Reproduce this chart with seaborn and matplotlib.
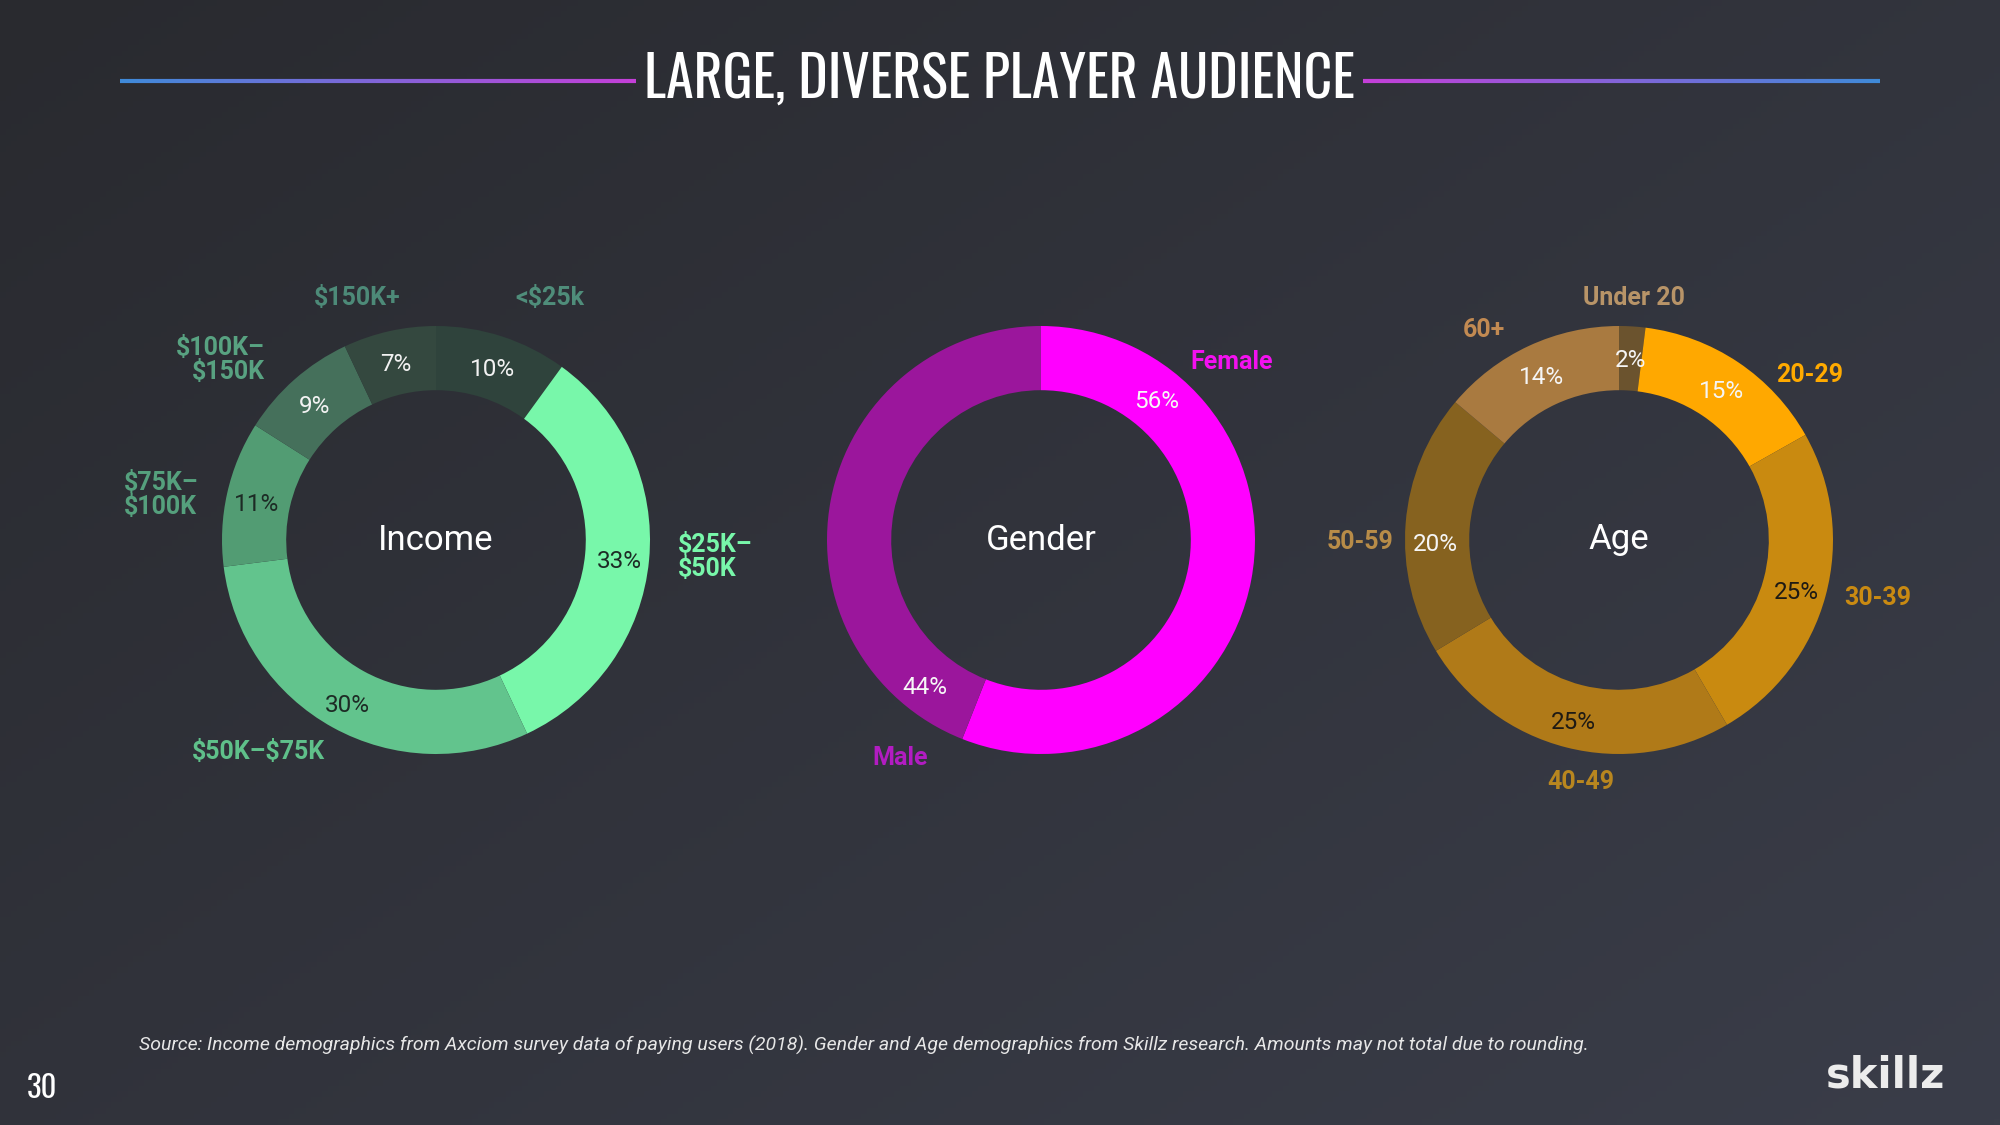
import numpy as np
import matplotlib
matplotlib.use("Agg")
import matplotlib.pyplot as plt
import seaborn as sns
from matplotlib.collections import LineCollection
from matplotlib import font_manager
from matplotlib.font_manager import FontProperties

# ---------------- data ----------------
income_labels = ["<$25k", "$25K–\n$50K", "$50K–$75K", "$75K–\n$100K", "$100K–\n$150K", "$150K+"]
income_values = [10, 33, 30, 11, 9, 7]

gender_labels = ["Female", "Male"]
gender_values = [56, 44]

age_labels = ["Under 20", "20-29", "30-39", "40-49", "50-59", "60+"]
age_values = [2, 15, 25, 25, 20, 14]

center_titles = ["Income", "Gender", "Age"]
title_text = "LARGE, DIVERSE PLAYER AUDIENCE"
source_text = ("Source: Income demographics from Axciom survey data of paying users (2018). "
               "Gender and Age demographics from Skillz research. Amounts may not total due to rounding.")
page_text = "30"
logo_text = "skillz"

# ---------------- styles ----------------
income_colors = sns.color_palette(["#2f433c", "#78f7aa", "#62c48d", "#529c73", "#45705b", "#34483f"])
income_label_colors = ["#4f8d7a", "#78f7aa", "#5fc08a", "#55a07d", "#58a281", "#4d8a78"]
income_pct_colors = ["#f2f2f2", "#1d2b25", "#1d2b25", "#1d2b25", "#f2f2f2", "#f2f2f2"]

gender_colors = sns.color_palette(["#ff00ff", "#9b169c"])
gender_label_colors = ["#f410f0", "#b21cc2"]
gender_pct_colors = ["#f7f7f7", "#f7f7f7"]

age_colors = sns.color_palette(["#6b532e", "#ffa800", "#c98a10", "#b07a18", "#86621f", "#a97a40"])
age_label_colors = ["#b89468", "#ffaa00", "#c98a12", "#b8861f", "#b88c48", "#c28a52"]
age_pct_colors = ["#f5f5f5", "#f5f5f5", "#1e1a14", "#1e1a14", "#f5f5f5", "#f5f5f5"]

# layout (outer label anchors in units of the outer radius)
income_label_layout = [((0.53, 1.13), "center"), ((1.13, -0.08), "left"), ((-0.83, -0.99), "center"),
                       ((-1.46, 0.21), "left"), ((-0.80, 0.84), "right"), ((-0.37, 1.13), "center")]
gender_label_layout = [((0.89, 0.83), "center"), ((-0.66, -1.02), "center")]
age_label_layout = [((0.07, 1.13), "center"), ((0.89, 0.77), "center"), ((1.21, -0.27), "center"),
                    ((-0.18, -1.13), "center"), ((-1.21, -0.01), "center"), ((-0.63, 0.98), "center")]
gender_pct_angles = [51, 231]   # standard-angle placement of the gender % labels
age_pct_angles = [86.4, 56.1, -15.1, -104.3, 180.0, 115.0]

W, H = 2000, 1125
R = 214
centers = [(436, 540), (1041, 540), (1619, 540)]

sns.set_theme(style="dark")
plt.rcParams["font.family"] = ["Roboto", "DejaVu Sans"]


def find_condensed(bold):
    best = None
    for f in font_manager.fontManager.ttflist:
        fn = f.fname.lower()
        cond = ("condensed" in fn or "narrow" in fn or "oswald" in fn
                or str(f.stretch) in ("condensed", "semi-condensed", "extra-condensed"))
        if not cond or f.style != "normal":
            continue
        w = f.weight if isinstance(f.weight, int) else (700 if "bold" in str(f.weight) else 400)
        score = abs(w - (700 if bold else 400))
        if "oswald" in fn:
            score -= 1000
        if best is None or score < best[0]:
            best = (score, f.fname)
    if best is None:
        return FontProperties(family="DejaVu Sans", weight="bold" if bold else "normal")
    return FontProperties(fname=best[1])


title_fp = find_condensed(True)
page_fp = find_condensed(False)

fig = plt.figure(figsize=(20, 11.25), dpi=100)
renderer = fig.canvas.get_renderer()


def fit_width(txt, target_px):
    bb = txt.get_window_extent(renderer=renderer)
    txt.set_fontsize(txt.get_fontsize() * target_px / bb.width)


def esc(s):
    return s.replace("$", r"\$")


# background
bg = fig.add_axes([0, 0, 1, 1])
bg.set_xlim(0, W)
bg.set_ylim(H, 0)
bg.axis("off")
yy, xx = np.mgrid[0:1:200j, 0:1:360j]
t = 0.55 * xx + 0.45 * yy
c0 = np.array([0x29, 0x2a, 0x2f]) / 255
c1 = np.array([0x3a, 0x3d, 0x49]) / 255
img = c0[None, None, :] * (1 - t[..., None]) + c1[None, None, :] * t[..., None]
bg.imshow(img, extent=[0, W, H, 0], aspect="auto", zorder=0)

# title + gradient rules
ttl = bg.text(999, 80, title_text, ha="center", va="center", color="white",
              fontproperties=title_fp, zorder=3)
ttl.set_fontsize(40)
fit_width(ttl, 711)


def grad_line(x0, x1, y, ca, cb):
    xs = np.linspace(x0, x1, 120)
    pts = np.array([xs, np.full_like(xs, y)]).T.reshape(-1, 1, 2)
    segs = np.concatenate([pts[:-1], pts[1:]], axis=1)
    ca = np.array(matplotlib.colors.to_rgb(ca))
    cb = np.array(matplotlib.colors.to_rgb(cb))
    f = np.linspace(0, 1, len(segs))[:, None]
    cols = ca * (1 - f) + cb * f
    lc = LineCollection(segs, colors=cols, linewidths=3.0, zorder=2)
    bg.add_collection(lc)


grad_line(120, 636, 81, "#3f8ad8", "#c43fd8")
grad_line(1363, 1880, 81, "#c43fd8", "#3f8ad8")

# footer
src = bg.text(139, 1045, source_text, ha="left", va="center", color="#e6e6e6", fontsize=13.2,
              fontstyle="italic", zorder=3)
fit_width(src, 1454)
pg = bg.text(42, 1089, page_text, ha="center", va="center", color="white",
             fontproperties=page_fp, zorder=3)
pg.set_fontsize(22)
bg.text(1886, 1075, logo_text, ha="center", va="center", color="#ececec", fontsize=30,
        fontweight="bold", family=["DejaVu Sans"], zorder=3)


def donut(center, values, colors, labels, label_colors, layout, pct_colors, title, pct_angles=None):
    cx, cy = center
    ax = fig.add_axes([(cx - 1.6 * R) / W, (H - cy - 1.6 * R) / H, 3.2 * R / W, 3.2 * R / H])
    ax.set_facecolor("none")
    wedges, _ = ax.pie(values, colors=colors, startangle=90, counterclock=False, radius=1.0,
                       wedgeprops=dict(width=0.30, edgecolor="none", linewidth=0))
    ax.set_xlim(-1.6, 1.6)
    ax.set_ylim(-1.6, 1.6)
    ax.set_aspect("equal")
    ax.axis("off")
    for i, (w, v) in enumerate(zip(wedges, values)):
        ang = (w.theta1 + w.theta2) / 2 if pct_angles is None else pct_angles[i]
        r = 0.86
        ax.text(r * np.cos(np.radians(ang)), r * np.sin(np.radians(ang)) - 0.02, f"{v}%",
                ha="center", va="center", fontsize=17.5, color=pct_colors[i])
    for lab, col, ((lx, ly), ha) in zip(labels, label_colors, layout):
        ax.text(lx, ly, esc(lab), ha=ha, va="center", multialignment=ha if ha != "center" else "center",
                fontsize=18, fontweight="bold", color=col, linespacing=1.0)
    ax.text(0, 0, title, ha="center", va="center", fontsize=25, color="white")


donut(centers[0], income_values, income_colors, income_labels, income_label_colors,
      income_label_layout, income_pct_colors, center_titles[0])
donut(centers[1], gender_values, gender_colors, gender_labels, gender_label_colors,
      gender_label_layout, gender_pct_colors, center_titles[1], pct_angles=gender_pct_angles)
donut(centers[2], age_values, age_colors, age_labels, age_label_colors,
      age_label_layout, age_pct_colors, center_titles[2], pct_angles=age_pct_angles)

fig.savefig("out.png", dpi=100, facecolor=fig.get_facecolor())
